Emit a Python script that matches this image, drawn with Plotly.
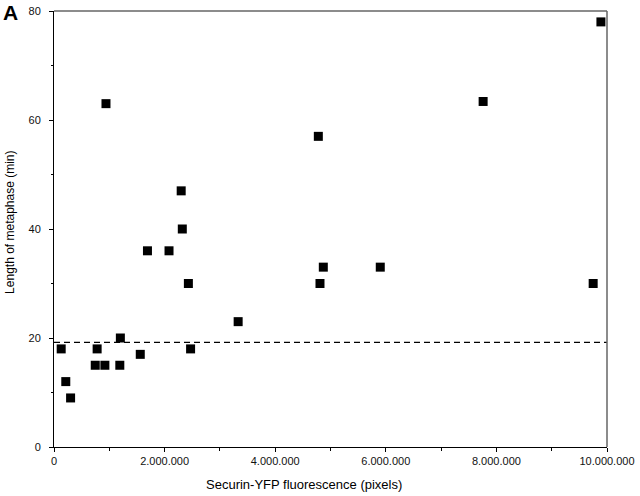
import plotly.graph_objects as go

# Data
fluorescence = [130000, 213000, 300000, 746000, 780000, 920000, 1190000, 1200000,
                1560000, 2470000, 940000, 2300000, 2320000, 1690000, 2080000, 2430000,
                4780000, 4870000, 5900000, 4810000, 9750000, 7760000, 9890000, 3330000]
metaphase_min = [18, 12, 9, 15, 18, 15, 15, 20,
                 17, 18, 63, 47, 40, 36, 36, 30,
                 57, 33, 33, 30, 30, 63.4, 78, 23]
threshold = 19.2
x_major = [0, 2000000, 4000000, 6000000, 8000000, 10000000]
x_labels = ["0", "2.000.000", "4.000.000", "6.000.000", "8.000.000", "10.000.000"]
y_major = [0, 20, 40, 60, 80]

FONT = "Liberation Sans, Arial, sans-serif"

fig = go.Figure()
fig.add_trace(go.Scatter(
    x=[0, 10000000], y=[threshold, threshold], mode="lines",
    line=dict(color="black", width=1.2, dash="6px,4px"),
    hoverinfo="skip", showlegend=False))
fig.add_trace(go.Scatter(
    x=fluorescence, y=metaphase_min, mode="markers", cliponaxis=False,
    marker=dict(symbol="square", size=9, color="black", line=dict(width=0)),
    showlegend=False))

fig.update_layout(
    width=640, height=496,
    margin=dict(l=54, r=23, t=5, b=49),
    paper_bgcolor="white", plot_bgcolor="white",
    font=dict(family=FONT, size=11, color="black"),
    xaxis=dict(range=[-1, 10000001], tickvals=x_major, ticktext=x_labels,
               ticklabeloverflow="allow",
               showgrid=False, zeroline=False, showline=True, linecolor="black",
               linewidth=1, ticks="outside", ticklen=4, tickcolor="black",
               minor=dict(tickvals=[1000000, 3000000, 5000000, 7000000, 9000000],
                          ticks="outside", ticklen=3, tickcolor="black"),
               tickfont=dict(size=11, family=FONT, color="#111111")),
    yaxis=dict(range=[-0.0001, 80.0001], tickvals=y_major,
               ticklabeloverflow="allow", ticklabelstandoff=6,
               showgrid=False, zeroline=False, showline=True, linecolor="black",
               linewidth=1, ticks="outside", ticklen=4, tickcolor="black",
               minor=dict(tickvals=[10, 30, 50, 70], ticks="outside", ticklen=2,
                          tickcolor="black"),
               tickfont=dict(size=11, family=FONT, color="#111111")),
    shapes=[
        dict(type="line", xref="paper", yref="paper", x0=0, x1=1, y0=1, y1=1,
             line=dict(color="#666666", width=1.5)),
        dict(type="line", xref="paper", yref="paper", x0=1, x1=1, y0=0, y1=1,
             line=dict(color="#666666", width=1.5)),
    ],
    annotations=[
        dict(text="<b>A</b>", xref="paper", yref="paper",
             x=(10 - 54) / 563, y=(447 - 7) / 442,
             xanchor="center", yanchor="middle", showarrow=False,
             font=dict(size=21, family=FONT, color="black")),
        dict(text="Securin-YFP fluorescence (pixels)", xref="paper", yref="paper",
             x=(309 - 54) / 563, y=-(485 - 447) / 442, xanchor="center",
             yanchor="middle", showarrow=False, font=dict(size=13, family=FONT)),
        dict(text="Length of metaphase (min)", xref="paper", yref="paper",
             x=(9 - 54) / 563, y=(447 - 219) / 442, xanchor="center",
             yanchor="middle", textangle=-90, showarrow=False,
             font=dict(size=12, family=FONT)),
    ],
)

fig.write_html("out.html", config={"displayModeBar": False},
               post_script="document.body.style.margin='0';document.body.style.overflow='hidden';")
